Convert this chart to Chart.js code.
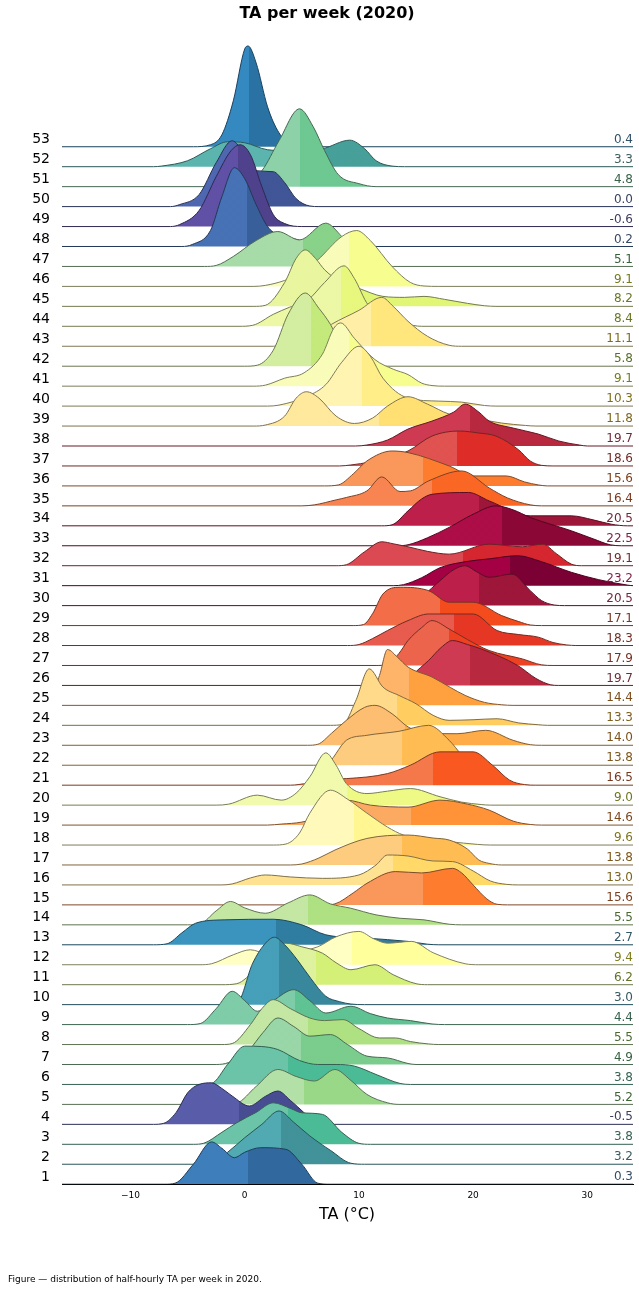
<!DOCTYPE html>
<html>
<head>
<meta charset="utf-8">
<script src="https://cdn.jsdelivr.net/npm/chart.js@4/dist/chart.umd.min.js"></script>
<style>
  html, body { margin: 0; padding: 0; background: #fff; }
  #wrap { width: 639px; height: 1291px; position: relative; }
</style>
</head>
<body>
<div id="wrap"><canvas id="ridges"></canvas></div>
<script>

var weeks = [];
for (var i = 1; i <= 53; i++) weeks.push(i);

var weekMeans = [0.3, 3.2, 3.8, -0.5, 5.2, 3.8, 4.9, 5.5, 4.4, 3.0,
  6.2, 9.4, 2.7, 5.5, 15.6, 13.0, 13.8, 9.6, 14.6, 9.0,
  16.5, 13.8, 14.0, 13.3, 14.4, 19.7, 17.9, 18.3, 17.1, 20.5,
  23.2, 19.1, 22.5, 20.5, 16.4, 15.6, 18.6, 19.7, 11.8, 10.3,
  9.1, 5.8, 11.1, 8.4, 8.2, 9.1, 5.1, 0.2, -0.6, 0.0,
  4.8, 3.3, 0.4];

// density outline per week, [temperature, height in row units]
var ridgeKnots = [
  [[-7,0],[-6.1,0.05],[-4.5,1.0],[-2.9,2.12],[-2,1.8],[-0.9,1.33],[0,1.6],[1.4,1.83],[3.6,1.75],[5,1.0],[6.4,0.05],[7.5,0]],
  [[-4,0],[-2.9,0.05],[-1.5,0.6],[0,1.33],[1.5,2.0],[3,2.67],[4.3,2.1],[5.7,1.42],[7.5,0.7],[9.3,0.05],[10.5,0]],
  [[-4.5,0],[-3.6,0.05],[-2,0.6],[-0.7,1.08],[1,1.6],[2.5,2.08],[4,1.8],[5,1.58],[6.8,1.5],[8.5,0.6],[10,0.05],[11,0]],
  [[-8,0],[-7.1,0.05],[-6,0.6],[-5,1.58],[-4,2.0],[-2.9,2.08],[-2,1.8],[-1.1,1.42],[0.4,0.92],[1.8,1.4],[2.9,1.67],[4,1.2],[5.2,0.58],[6.2,0.05],[7,0]],
  [[-1.5,0],[-0.7,0.05],[1,0.9],[2.9,1.75],[4.5,1.4],[6.1,1.17],[7.9,1.75],[9.3,1.2],[10.7,0.5],[12.5,0.08],[13.5,0]],
  [[-4,0],[-2.9,0.05],[-1.5,1.0],[0,1.92],[1.5,1.9],[2.9,1.75],[4.8,1.2],[6.4,1.0],[8,1.0],[9.6,0.92],[11.5,0.5],[13.6,0.05],[14.5,0]],
  [[-2.5,0],[-1.4,0.1],[0.4,0.75],[1.6,1.6],[2.9,2.33],[4.3,1.9],[5.7,1.42],[7.5,1.5],[9,1.0],[10.7,0.42],[12.5,0.33],[14.3,0.05],[15,0]],
  [[-2,0],[-1.1,0.05],[0.5,1.0],[1.5,1.8],[2.5,2.25],[4,1.8],[5.7,1.33],[7,1.2],[8.6,1.25],[10,0.8],[11.8,0.33],[13.2,0.33],[14.5,0.15],[16.1,0.03],[17,0]],
  [[-5,0],[-3.9,0.05],[-2.5,0.8],[-1.1,1.67],[0,1.2],[1.1,0.67],[2.5,1.2],[4.3,1.75],[5.7,1.2],[7.1,0.58],[9.3,0.92],[11,0.55],[12.5,0.33],[14.5,0.2],[16.4,0.03],[17.5,0]],
  [[-2,0],[-0.7,0.05],[0.7,2.08],[1.7,3.0],[2.6,3.38],[3.5,3.0],[4.6,2.25],[5.8,1.3],[7.1,0.42],[8.3,0.15],[9.3,0.03],[10.5,0]],
  [[-2,0],[-0.7,0.05],[1,0.8],[2.5,1.6],[3.6,2.08],[5,1.9],[6.8,1.58],[8,1.1],[9.3,0.75],[11.4,1.0],[13,0.5],[15,0.05],[16,0]],
  [[-4,0],[-2.9,0.05],[-1,0.5],[0.5,0.75],[2,0.55],[4,0.6],[6.4,0.9],[8,1.4],[10,1.67],[11.3,1.3],[12.5,1.08],[14.6,1.17],[16.5,0.6],[19.3,0.05],[20.5,0]],
  [[-8,0],[-6.8,0.05],[-5.5,0.6],[-4.3,1.08],[-1.8,1.25],[2.5,1.28],[5,1.0],[7.1,0.5],[10.7,0.33],[14.3,0.17],[16,0.03],[17,0]],
  [[-5,0],[-3.9,0.05],[-2.5,0.7],[-1.25,1.17],[0,0.85],[1.8,0.58],[3.8,1.1],[5.7,1.5],[7.5,1.05],[9.3,0.83],[11.5,0.5],[13.6,0.33],[15.7,0.25],[17.9,0.03],[19,0]],
  [[7,0],[7.9,0.05],[9.5,0.6],[10.7,1.08],[13.2,1.67],[15.5,1.6],[18.2,1.83],[19,1.6],[20,1.0],[21.2,0.3],[22.1,0.03],[23,0]],
  [[-2,0],[-1.1,0.05],[0.5,0.35],[1.8,0.5],[4,0.4],[6.8,0.33],[10,0.5],[11.5,1.0],[12.5,1.5],[14.3,1.45],[16.5,1.2],[18.2,1.17],[20,0.7],[21.5,0.2],[22.9,0.03],[24,0]],
  [[4,0],[5,0.05],[6.5,0.35],[7.9,0.75],[10.7,1.33],[14.3,1.5],[16.5,1.35],[17.9,1.25],[19.5,0.8],[20.5,0.25],[21.4,0.08],[22.5,0]],
  [[2.5,0],[3.6,0.05],[4.8,0.6],[5.7,1.6],[7.5,2.75],[9,2.3],[10.7,1.6],[12.5,0.9],[13.9,0.5],[16,0.25],[17.9,0.17],[20.4,0.03],[21.5,0]],
  [[2,0],[3.2,0.05],[5,0.15],[7,0.5],[8.9,1.25],[11,1.0],[14.3,0.9],[17.1,1.25],[19.5,1.05],[21.4,0.75],[23.5,0.2],[25,0.03],[26,0]],
  [[-2.5,0],[-1.4,0.05],[1.1,0.5],[3.2,0.25],[4.5,0.6],[5.7,1.42],[7.1,2.62],[8,2.0],[8.9,1.08],[10.7,0.58],[12.5,0.7],[14.5,0.83],[17.1,0.42],[19,0.15],[20.7,0.03],[21.5,0]],
  [[4,0],[5.5,0.1],[7.5,0.3],[8.9,0.33],[12.5,0.58],[14.5,1.0],[17.1,1.67],[20,1.67],[21.7,1.0],[23.2,0.25],[24.5,0.03],[25.5,0]],
  [[6,0],[7.1,0.05],[8.9,1.25],[10.7,1.5],[13.5,1.7],[16.1,2.0],[17.9,1.25],[19,0.5],[19.6,0.08],[20.5,0]],
  [[5.5,0],[6.4,0.05],[7.6,0.6],[8.9,1.25],[10.5,1.9],[11.4,2.0],[12.9,1.58],[14.3,0.92],[16,0.6],[18.6,0.58],[21.1,0.75],[23.5,0.25],[25,0.03],[26,0]],
  [[7.5,0],[8.6,0.05],[9.7,1.2],[10.9,2.83],[12.1,1.92],[13.5,1.5],[15,1.08],[16.5,0.5],[17.9,0.25],[20,0.28],[22.1,0.33],[24,0.12],[25.7,0.03],[26.5,0]],
  [[9.5,0],[10.7,0.05],[11.8,1.5],[12.5,2.8],[13.4,2.4],[14.3,1.92],[16.4,1.42],[18,0.9],[19.3,0.5],[21,0.15],[22.5,0.03],[23.5,0]],
  [[12.5,0],[13.6,0.05],[15.4,0.9],[16.1,1.25],[17.2,1.9],[18.2,2.25],[19.5,2.05],[20.7,1.83],[23.9,1.0],[25.5,0.35],[26.8,0.03],[27.5,0]],
  [[11.5,0],[12.5,0.05],[13.5,0.6],[14.3,1.25],[15.5,1.9],[16.4,2.25],[17.9,1.83],[19.5,1.3],[21.4,0.75],[24.3,0.33],[26,0.03],[27,0]],
  [[9,0],[10,0.05],[11.2,0.35],[12.5,0.75],[14.3,1.25],[16.1,1.58],[20,1.58],[22.1,0.75],[24,0.55],[25.7,0.42],[27,0.15],[28.2,0.03],[29,0]],
  [[9.5,0],[10.4,0.05],[11.2,0.6],[12.1,1.58],[13.6,1.92],[16.1,1.75],[17.9,1.17],[20,1.17],[22.5,0.5],[24,0.2],[25,0.03],[26,0]],
  [[13.3,0],[14.3,0.05],[15.6,0.5],[17.1,1.25],[18.3,1.8],[19.3,2.0],[20.3,1.7],[21.4,1.42],[23.4,1.58],[25,0.75],[26,0.25],[27.1,0.03],[28,0]],
  [[13,0],[13.9,0.05],[15.5,0.4],[17.1,0.9],[19.3,1.2],[21.5,1.35],[23.9,1.5],[26,1.2],[28.6,0.67],[31,0.3],[33.5,0.03],[34,0]],
  [[8,0],[8.9,0.05],[10.5,0.7],[12,1.2],[13,1.1],[14.3,0.95],[16,0.72],[17.9,0.58],[21.4,1.08],[24.3,0.95],[26.1,1.08],[27.3,0.6],[28.6,0.08],[29.5,0]],
  [[13.3,0],[14.3,0.05],[16,0.4],[17.9,0.92],[20,1.58],[22,2.0],[23.5,1.8],[25,1.42],[28.6,0.75],[30.5,0.35],[32,0.05],[33,0]],
  [[12,0],[12.9,0.05],[14.3,0.75],[15.5,1.35],[16.4,1.58],[19.6,1.67],[21.4,1.25],[25,0.5],[28.6,0.5],[30.5,0.3],[32.1,0.08],[33.5,0]],
  [[5,0],[6.1,0.05],[8,0.3],[8.9,0.42],[10.7,0.75],[12,1.45],[13.6,0.72],[14.5,0.75],[16.1,1.25],[19,1.75],[21.4,0.9],[23,0.4],[25,0.05],[26,0]],
  [[7,0],[8.2,0.05],[9.5,0.6],[10.7,1.25],[12.9,1.75],[14.3,1.67],[17.9,1.0],[20,0.5],[22.9,0.5],[24.5,0.2],[25.7,0.05],[26.5,0]],
  [[8.3,0],[9.3,0.05],[11,0.2],[12.5,0.4],[14.3,0.75],[16.4,1.5],[18.8,1.75],[20.5,1.65],[22,1.5],[24,0.8],[25,0.25],[26,0.03],[27,0]],
  [[9.7,0],[10.7,0.05],[12.5,0.3],[14.3,0.85],[16.4,1.25],[18.3,1.7],[19.3,2.1],[20.5,1.7],[21.4,1.25],[23.5,0.9],[25.7,0.6],[27.5,0.25],[29.3,0.05],[30,0]],
  [[0.8,0],[1.8,0.05],[3.5,0.5],[4.5,1.4],[5.4,1.72],[6.5,1.4],[8,0.5],[9.6,0.13],[11.2,0.4],[12.5,1.0],[14.3,1.47],[16,1.1],[17.9,0.6],[20,0.4],[22.5,0.15],[24.6,0.03],[25.5,0]],
  [[2,0],[3,0.05],[5.5,0.5],[7.1,1.08],[8.5,2.2],[10,3.0],[11,2.5],[12.1,1.4],[14.3,0.4],[17,0.25],[19,0.2],[21,0.03],[22,0]],
  [[0.8,0],[1.8,0.05],[3.5,0.4],[5.2,0.67],[6.8,1.6],[7.8,2.9],[8.4,3.17],[9.6,2.4],[11.4,1.33],[13,0.85],[14.3,0.58],[15.5,0.15],[16.4,0.03],[17.5,0]],
  [[0,0],[1.1,0.05],[2.5,0.8],[3.8,2.6],[5.3,3.67],[6.5,2.9],[7.5,2.1],[8.5,1.0],[9.5,0.25],[10.5,0]],
  [[2.5,0],[3.6,0.05],[5.5,0.3],[7.6,1.1],[10,1.8],[12,2.45],[13,2.0],[14.3,1.25],[16,0.5],[17.9,0.05],[19,0]],
  [[-0.5,0],[0.7,0.05],[2.5,0.6],[3.9,0.95],[5.5,1.3],[7,2.2],[8.7,3.03],[9.6,2.4],[10.8,1.08],[12.5,0.5],[14,0.15],[15.5,0]],
  [[0.8,0],[1.8,0.05],[3.5,1.2],[4.5,2.4],[5.3,2.83],[6.2,2.4],[7,1.83],[8.5,1.2],[10,0.9],[12.1,0.5],[14,0.45],[15.7,0.5],[17.5,0.35],[19.5,0.15],[21,0.03],[22,0]],
  [[0.8,0],[1.8,0.05],[3.5,0.3],[5,0.7],[6.4,1.33],[8.5,2.5],[9.8,2.8],[11,2.3],[12.9,1.0],[14.5,0.2],[15.7,0.02],[17,0]],
  [[-3.5,0],[-2.5,0.05],[-1,0.5],[1,1.3],[2.9,1.75],[4.8,1.33],[7.1,2.17],[8.5,1.5],[10,0.5],[11.5,0.05],[13,0]],
  [[-5.5,0],[-4.6,0.1],[-3,0.8],[-2,2.5],[-0.9,3.95],[0,3.4],[1,2.1],[2,1.0],[3,0.55],[4.6,0.35],[6,0.1],[7.5,0]],
  [[-6.5,0],[-5.7,0.1],[-4,0.8],[-2.5,2.5],[-1.2,3.8],[-0.4,4.1],[0.5,3.6],[1.5,2.0],[2.5,0.6],[3.5,0.15],[5,0]],
  [[-6.5,0],[-5.7,0.1],[-4,0.6],[-2.5,2.2],[-1.1,3.3],[0,2.6],[1,1.8],[2.5,1.75],[3.5,1.2],[4.5,0.4],[5.7,0.03],[6.5,0]],
  [[-2,0],[0,0.2],[1.5,0.8],[3,2.3],[4.8,3.9],[6,3.0],[7,1.8],[8.2,0.6],[10,0.15],[11.5,0]],
  [[-8,0],[-7.3,0.03],[-5,0.3],[-3,0.9],[-1.5,1.25],[0,1.2],[2,0.85],[4,0.8],[6.8,0.9],[9.2,1.33],[10.5,0.9],[11.5,0.3],[12.9,0.03],[14,0]],
  [[-4.5,0],[-3,0.1],[-2,0.6],[-1,2.3],[0,4.9],[0.3,5.05],[1,4.2],[2,2.0],[3,0.7],[4,0.15],[5.5,0]]
];

var xTicks = [-10, 0, 10, 20, 30];

var spectral = ['#5e4fa2','#3288bd','#66c2a5','#abdda4','#e6f598','#ffffbf','#fee08b','#fdae61','#f46d43','#d53e4f','#9e0142'];

function hexRgb(h) {
  return [parseInt(h.substr(1,2),16), parseInt(h.substr(3,2),16), parseInt(h.substr(5,2),16)];
}
function mix(c, d, t) {
  return [c[0]+(d[0]-c[0])*t, c[1]+(d[1]-c[1])*t, c[2]+(d[2]-c[2])*t];
}
function rgb(c) {
  return 'rgb(' + Math.round(c[0]) + ',' + Math.round(c[1]) + ',' + Math.round(c[2]) + ')';
}
// shift lightness (and scale saturation) in HSL space
function hsl(c, dl, sf) {
  var r = c[0]/255, g = c[1]/255, b = c[2]/255;
  var mx = Math.max(r,g,b), mn = Math.min(r,g,b), l = (mx+mn)/2, h = 0, s = 0, d = mx - mn;
  if (d > 0) {
    s = l > 0.5 ? d / (2 - mx - mn) : d / (mx + mn);
    if (mx === r) h = (g - b) / d + (g < b ? 6 : 0);
    else if (mx === g) h = (b - r) / d + 2;
    else h = (r - g) / d + 4;
    h /= 6;
  }
  l = Math.max(0, Math.min(1, l + dl));
  s = Math.max(0, Math.min(1, s * sf));
  return 'hsl(' + (h*360).toFixed(1) + ',' + (s*100).toFixed(1) + '%,' + (l*100).toFixed(1) + '%)';
}

// colour position follows the rank of the weekly mean
var sortedMeans = weekMeans.slice().sort(function(a, b) { return a - b; });
function rankOf(v) {
  var first = sortedMeans.indexOf(v), last = sortedMeans.lastIndexOf(v);
  return (first + last) / 2 / (sortedMeans.length - 1);
}
function colorFor(v) {
  var t = rankOf(v) * 10;
  var k = Math.min(9, Math.floor(t));
  return mix(hexRgb(spectral[k]), hexRgb(spectral[k+1]), t - k);
}

var BLACK = [0,0,0];

var datasets = [];
weeks.forEach(function(w, i) {
  var base = colorFor(weekMeans[i]);
  var light = hsl(base, 0.01, 1);
  var dark = hsl(base, -0.07, 1.05);
  var pts = [{x: -16, y: w}];
  ridgeKnots[i].forEach(function(k) { pts.push({x: k[0], y: w + k[1]}); });
  pts.push({x: 34, y: w});
  var m = weekMeans[i];
  datasets.push({
    label: 'week ' + w,
    data: pts,
    borderColor: rgb(mix(base, BLACK, 0.5)),
    borderWidth: 1,
    pointRadius: 0,
    cubicInterpolationMode: 'monotone',
    fill: {value: w},
    backgroundColor: function(c) {
      var ch = c.chart, a = ch.chartArea;
      if (!a) return light;
      var px = ch.scales.x.getPixelForValue(m);
      var f = Math.max(0, Math.min(1, (px - a.left) / (a.right - a.left)));
      var g = ch.ctx.createLinearGradient(a.left, 0, a.right, 0);
      g.addColorStop(0, light); g.addColorStop(f, light);
      g.addColorStop(f, dark); g.addColorStop(1, dark);
      return g;
    }
  });
});

function labelColor(c) {
  var r = c[0]/255, g = c[1]/255, b = c[2]/255;
  var l = (Math.max(r,g,b) + Math.min(r,g,b)) / 2;
  return hsl(c, 0.3 - l, 0.65);
}

var labelsPlugin = {
  id: 'ridgeLabels',
  afterDraw: function(chart) {
    var ctx = chart.ctx, y = chart.scales.y;
    ctx.save();
    ctx.textBaseline = 'middle';
    weeks.forEach(function(w, i) {
      var py = y.getPixelForValue(w) - 7;
      ctx.font = '14px "DejaVu Sans"';
      ctx.fillStyle = '#000';
      ctx.textAlign = 'right';
      ctx.fillText(String(w), 50, py);
      ctx.font = '12px "DejaVu Sans"';
      ctx.fillStyle = labelColor(colorFor(weekMeans[i]));
      ctx.fillText(weekMeans[i].toFixed(1), 633, py);
    });
    ctx.fillStyle = '#000';
    ctx.textAlign = 'center';
    ctx.font = 'bold 16px "DejaVu Sans"';
    ctx.fillText('TA per week (2020)', 327, 14);
    ctx.font = '16px "DejaVu Sans"';
    ctx.fillText('TA (°C)', 347, 1215);
    ctx.textAlign = 'left';
    ctx.font = '9px "DejaVu Sans"';
    ctx.fillText('Figure — distribution of half-hourly TA per week in 2020.', 8, 1280);
    ctx.restore();
  }
};

new Chart(document.getElementById('ridges'), {
  type: 'line',
  data: {datasets: datasets},
  plugins: [labelsPlugin],
  options: {
    responsive: true,
    maintainAspectRatio: false,
    animation: false,
    layout: {padding: {left: 62, right: 6, top: 42, bottom: 84}},
    plugins: {legend: {display: false}, tooltip: {enabled: false}},
    scales: {
      x: {
        type: 'linear', min: -16, max: 34,
        afterBuildTicks: function(ax) { ax.ticks = xTicks.map(function(v) { return {value: v}; }); },
        grid: {display: false, drawTicks: false},
        border: {display: true, color: '#000', width: 1},
        ticks: {color: '#000', font: {size: 9, family: 'DejaVu Sans'}, padding: 6,
          callback: function(v) { return v < 0 ? '\u2212' + Math.abs(v) : String(v); }}
      },
      y: {
        type: 'linear', min: 1, max: 58.25, display: false
      }
    }
  }
});
</script>
</body>
</html>
